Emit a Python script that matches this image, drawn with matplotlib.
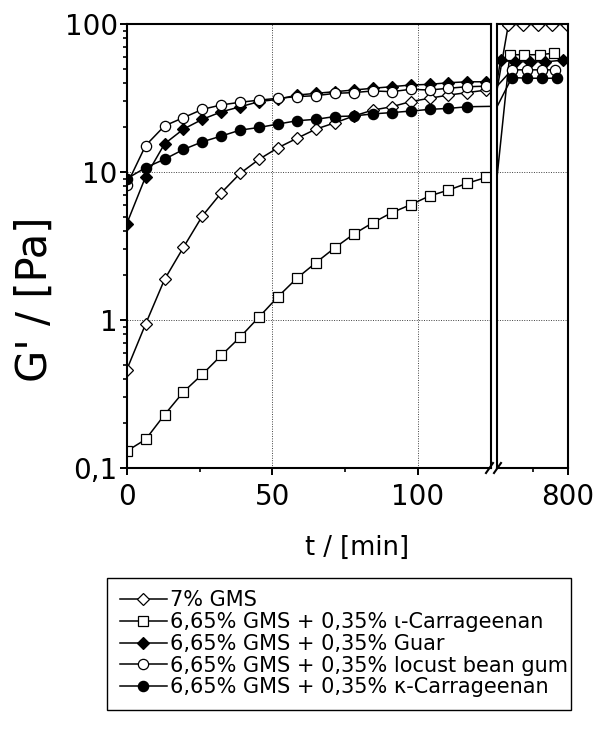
import matplotlib
matplotlib.use('Agg')
import matplotlib.pyplot as plt
from matplotlib.lines import Line2D

plt.rcParams['font.family'] = ['DejaVu Sans']

# time grid of the early measurement [min]
T = [0, 6.5, 13, 19.5, 26, 32.5, 39, 45.5, 52, 58.5, 65, 71.5, 78, 84.5,
     91, 97.5, 104, 110.5, 117, 123.5]

# G' [Pa], early part
gms7 = [0.46, 0.94, 1.88, 3.1, 5.05, 7.24, 9.8, 12.2, 14.6, 16.9, 19.5, 21.5,
        23.9, 26.2, 27.6, 29.9, 31.5, 33.1, 34.4, 35.8]
iota = [0.13, 0.156, 0.229, 0.327, 0.43, 0.577, 0.768, 1.05, 1.44, 1.92, 2.44,
        3.08, 3.81, 4.54, 5.31, 6.01, 6.89, 7.55, 8.40, 9.2]
guar = [4.46, 9.3, 15.5, 19.5, 22.7, 25.5, 27.6, 29.9, 31.0, 33.1, 34.0, 34.9,
        35.8, 36.8, 37.7, 38.7, 39.1, 40.1, 40.7, 40.7]
lbg = [8.17, 15.1, 20.5, 23.3, 26.5, 28.4, 29.6, 30.6, 31.5, 32.3, 32.8, 34.0,
       34.4, 35.3, 34.9, 36.2, 35.8, 36.8, 37.7, 38.0]
kappa = [9.0, 10.7, 12.2, 14.2, 16.0, 17.5, 19.2, 20.0, 21.1, 22.2, 22.7, 23.7,
         23.9, 24.7, 25.2, 25.8, 26.5, 26.9, 27.6]

# late part (after the axis break)
gms7_late_t = [716, 737, 758, 778, 798]
gms7_late = [99, 99, 99, 99, 99]
iota_late_t = [718, 738, 760, 780]
iota_late = [62, 62, 62, 63.5]
guar_late_t = [705, 725, 746, 768, 793]
guar_late = [57, 55.5, 55.5, 55.5, 57]
lbg_late_t = [721, 742, 763, 782]
lbg_late = [49, 49, 49, 49]
kappa_late_t = [721, 742, 763, 784]
kappa_late = [43.5, 43, 43, 43]

LABELS = ['7% GMS',
          '6,65% GMS + 0,35% ι-Carrageenan',
          '6,65% GMS + 0,35% Guar',
          '6,65% GMS + 0,35% locust bean gum',
          '6,65% GMS + 0,35% κ-Carrageenan']

SERIES = [
    (T, gms7, gms7_late_t, gms7_late, 'D', 'white', 6.4),
    (T, iota, iota_late_t, iota_late, 's', 'white', 6.6),
    (T, guar, guar_late_t, guar_late, 'D', 'black', 6.4),
    (T, lbg, lbg_late_t, lbg_late, 'o', 'white', 7.4),
    (T[:len(kappa)], kappa, kappa_late_t, kappa_late, 'o', 'black', 7.4),
]

RIGHT_XLIM = (700, 800)

W, H = 598, 736
fig = plt.figure(figsize=(W / 100, H / 100), dpi=100)


def rect(x0, y0, x1, y1):
    return [x0 / W, 1 - y1 / H, (x1 - x0) / W, (y1 - y0) / H]


ax = fig.add_axes(rect(126.7, 24, 491, 468))
ax2 = fig.add_axes(rect(497, 24, 568, 468), sharey=ax)

handles = []
for t, v, tl, vl, mk, fc, ms in SERIES:
    ln, = ax.plot(list(t) + tl, v + vl, color='black', lw=1.1, marker=mk,
                  ms=ms, mfc=fc, mec='black', mew=0.9)
    handles.append(ln)
    ax2.plot([RIGHT_XLIM[0]] + tl, [v[-1]] + vl, color='black', lw=1.1,
             marker=mk, ms=ms, mfc=fc, mec='black', mew=0.9,
             markevery=slice(1, None))

ax.set_yscale('log')
ax.set_ylim(0.1, 100)
ax.set_yticks([0.1, 1, 10, 100])
ax.set_yticklabels(['0,1', '1', '10', '100'])
ax.set_xlim(0, 125.1)
ax.set_xticks([0, 50, 100])
ax.set_xticks([25, 75], minor=True)
ax2.set_xlim(*RIGHT_XLIM)
ax2.set_xticks([800])
ax2.set_xticks([750], minor=True)

for a in (ax, ax2):
    a.grid(True, which='major', color='0.25', linestyle=(0, (1, 1.5)), lw=0.7)
    for s in a.spines.values():
        s.set_linewidth(1.5)
    a.tick_params(which='major', direction='out', length=5, width=1.4,
                  labelsize=20, top=False, right=False)
    a.tick_params(which='minor', direction='out', length=3, width=1.2,
                  top=False, right=False)
    a.tick_params(axis='x', pad=6)
    a.tick_params(axis='y', pad=1.5)
ax2.tick_params(axis='y', which='both', left=False, labelleft=False)

# break marks on the x axis
for xc in (489.5, 497.5):
    fig.add_artist(Line2D([(xc - 3.5) / W, (xc + 3.5) / W],
                          [1 - 473 / H, 1 - 463 / H],
                          transform=fig.transFigure, color='black', lw=1.5))

fig.text(357 / W, 1 - 548 / H, 't / [min]', ha='center', va='center', fontsize=18.5)
fig.text(35 / W, 1 - 299 / H, "G' / [Pa]", ha='center', va='center',
         rotation=90, fontsize=30)

leg = fig.legend(handles, LABELS, loc='upper left',
                 bbox_to_anchor=(107 / W, 1 - 578 / H, 464 / W, 0.0),
                 mode='expand', borderaxespad=0, fontsize=15,
                 handlelength=2.3, handletextpad=0.12, labelspacing=0.08,
                 borderpad=0.6, fancybox=False, edgecolor='black',
                 framealpha=1)
leg.get_frame().set_linewidth(1.0)

fig.savefig('out.png', dpi=100)
